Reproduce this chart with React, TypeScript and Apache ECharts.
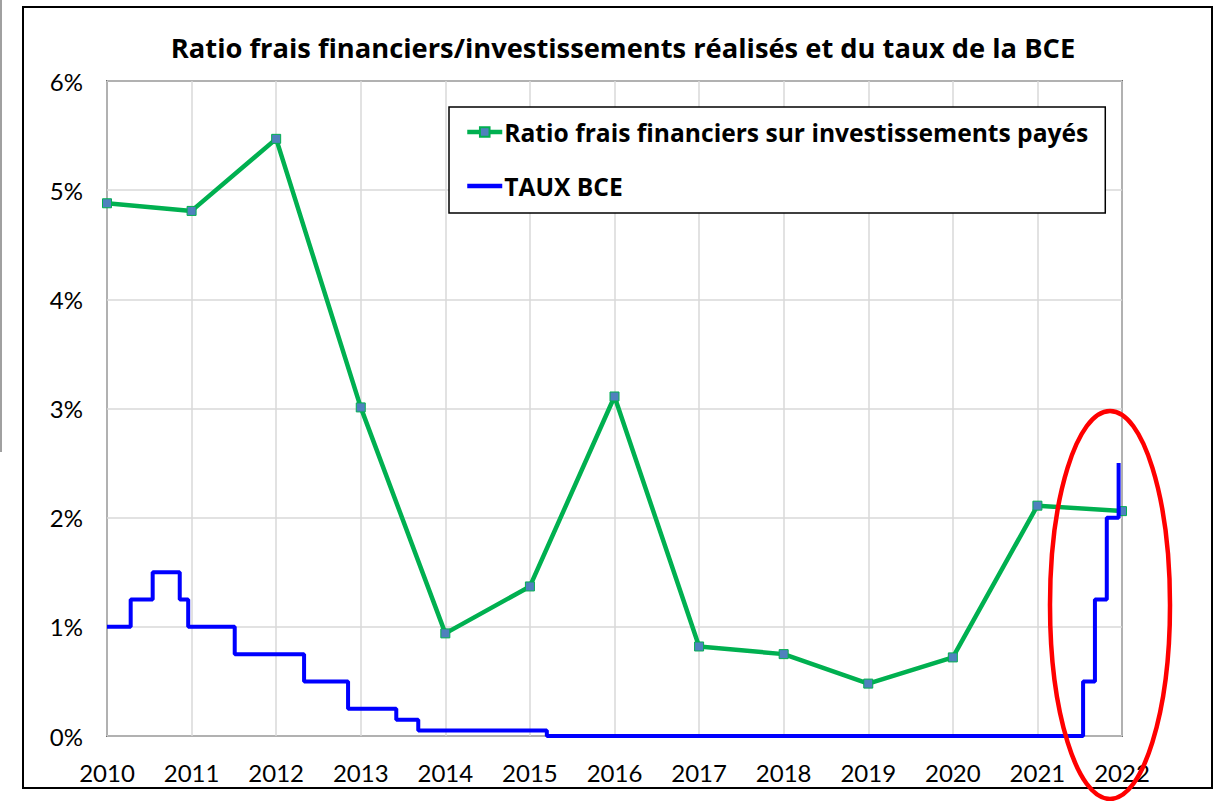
import React, { useEffect, useRef } from "react";
import * as echarts from "echarts";

const TITLE = "Ratio frais financiers/investissements réalisés et du taux de la BCE";
const SERIES_RATIO = "Ratio frais financiers sur investissements payés";
const SERIES_BCE = "TAUX BCE";

const years = [2010, 2011, 2012, 2013, 2014, 2015, 2016, 2017, 2018, 2019, 2020, 2021, 2022];
const ratioValues = [4.88, 4.81, 5.47, 3.01, 0.94, 1.37, 3.11, 0.82, 0.75, 0.48, 0.72, 2.11, 2.06];

// ECB rate: dates at which a new rate starts (decimal years) and the rate (%)
const bceDates = [2010, 2010.28, 2010.54, 2010.86, 2010.96, 2011.51, 2012.33, 2012.85, 2013.42, 2013.68, 2015.2, 2021.54, 2021.68, 2021.82, 2021.96];
const bceRates = [1, 1.25, 1.5, 1.25, 1, 0.75, 0.5, 0.25, 0.15, 0.05, 0, 0.5, 1.25, 2, 2.5];

const yTicks = [0, 1, 2, 3, 4, 5, 6];

const FONT = "Lato, 'Open Sans', sans-serif";
const BOLD_FONT = "'Open Sans', Lato, sans-serif";

export default function App() {
  const ref = useRef<HTMLDivElement>(null);
  useEffect(() => {
    if (!ref.current) return;
    const chart = echarts.init(ref.current, undefined, { renderer: "svg" });
    chart.setOption({
      animation: false,
      backgroundColor: "#fff",
      grid: {
        left: 107,
        right: 103,
        top: 81,
        bottom: 65,
        show: true,
        borderColor: "#000",
        borderWidth: 1.5,
      },
      xAxis: {
        type: "value",
        min: years[0],
        max: years[years.length - 1],
        interval: 1,
        axisLine: { show: false },
        axisTick: { show: false },
        axisLabel: {
          margin: 24,
          fontSize: 24,
          color: "#000",
          fontFamily: FONT,
          formatter: (v: number) => String(Math.round(v)),
        },
        splitLine: { show: true, lineStyle: { color: "#d9d9d9", width: 1.5 } },
      },
      yAxis: {
        type: "value",
        min: yTicks[0],
        max: yTicks[yTicks.length - 1],
        interval: 1,
        axisLine: { show: false },
        axisTick: { show: false },
        axisLabel: {
          margin: 24,
          fontSize: 24,
          color: "#000",
          fontFamily: FONT,
          formatter: "{value}%",
        },
        splitLine: { show: true, lineStyle: { color: "#d9d9d9", width: 1.5 } },
      },
      legend: {
        orient: "vertical",
        left: 449,
        top: 107,
        padding: [11, 17, 13, 16],
        itemGap: 26,
        itemWidth: 35,
        itemHeight: 12,
        backgroundColor: "#fff",
        borderColor: "#000",
        borderWidth: 1.5,
        borderRadius: 0,
        lineStyle: { width: 4.5 },
        textStyle: {
          fontSize: 24.6,
          fontWeight: "bold",
          color: "#000",
          fontFamily: BOLD_FONT,
          lineHeight: 28,
          padding: [0, 0, 0, -3],
        },
        data: [
          SERIES_RATIO,
          { name: SERIES_BCE, itemStyle: { opacity: 0 } },
        ],
      },
      series: [
        {
          name: SERIES_RATIO,
          type: "line",
          data: years.map((y, i) => [y, ratioValues[i]]),
          symbol: "rect",
          symbolSize: 9,
          lineStyle: { color: "#00b050", width: 4.5 },
          itemStyle: { color: "#4f81bd", borderColor: "#00b050", borderWidth: 1 },
          z: 3,
        },
        {
          name: SERIES_BCE,
          type: "line",
          step: "end",
          data: bceDates.map((d, i) => [d, bceRates[i]]),
          symbol: "none",
          lineStyle: { color: "#0000ff", width: 4 },
          itemStyle: { color: "#0000ff" },
          z: 4,
        },
      ],
      graphic: [
        {
          type: "text",
          x: 623,
          y: 47,
          style: {
            text: TITLE,
            textAlign: "center",
            textVerticalAlign: "middle",
            fontSize: 27.3,
            fontWeight: "bold",
            fontFamily: BOLD_FONT,
            fill: "#000",
          },
        },
        {
          type: "rect",
          shape: { x: 23, y: 7, width: 1189, height: 781 },
          style: { fill: "none", stroke: "#000", lineWidth: 2 },
          silent: true,
        },
        {
          type: "line",
          shape: { x1: 1, y1: 0, x2: 1, y2: 452 },
          style: { stroke: "#a0a0a0", lineWidth: 2 },
          silent: true,
        },
        {
          type: "ellipse",
          shape: { cx: 1110, cy: 605, rx: 60, ry: 194 },
          style: { fill: "none", stroke: "#ff0000", lineWidth: 4.5 },
          z: 100,
          silent: true,
        },
      ],
    });
    return () => chart.dispose();
  }, []);
  return (
    <div
      ref={ref}
      style={{ position: "fixed", left: 0, top: 0, width: 1225, height: 801 }}
    />
  );
}
